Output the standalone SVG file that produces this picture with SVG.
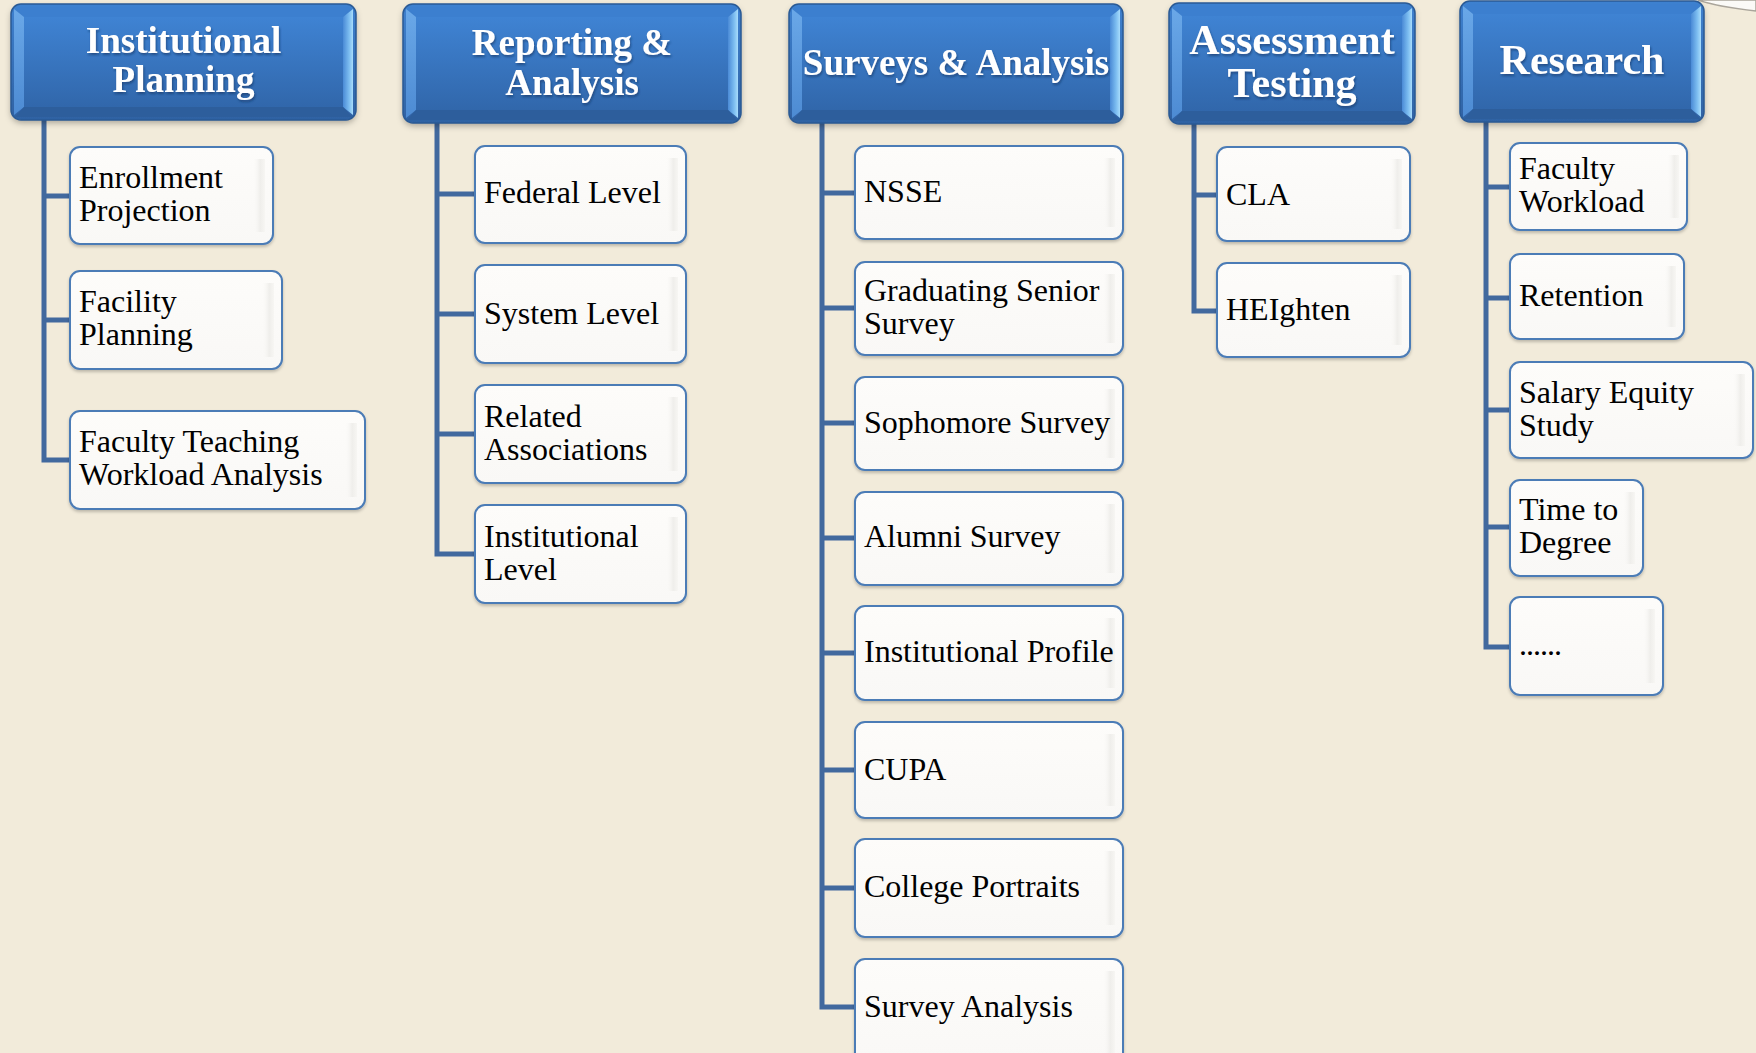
<svg xmlns="http://www.w3.org/2000/svg" width="1756" height="1053" viewBox="0 0 1756 1053">
<defs>
<linearGradient id="face" x1="0" y1="0" x2="0" y2="1"><stop offset="0" stop-color="#3f83d3"/><stop offset="1" stop-color="#3167ab"/></linearGradient>
<linearGradient id="outer" x1="0" y1="0" x2="0" y2="1"><stop offset="0" stop-color="#3e81d0"/><stop offset="1" stop-color="#2f62a3"/></linearGradient>
<linearGradient id="lbev" x1="0" y1="0" x2="0" y2="1"><stop offset="0" stop-color="#6aa8e8"/><stop offset="1" stop-color="#4d8bd3"/></linearGradient>
<linearGradient id="rbev" x1="0" y1="0" x2="1" y2="0"><stop offset="0" stop-color="#4a8ad6"/><stop offset="0.6" stop-color="#7bbcf0"/><stop offset="1" stop-color="#a8dcfb"/></linearGradient>
<linearGradient id="boxFill" x1="0" y1="0" x2="0" y2="1"><stop offset="0" stop-color="#fdfcfa"/><stop offset="1" stop-color="#f9f8f6"/></linearGradient>
<linearGradient id="strip" x1="0" y1="0" x2="1" y2="0"><stop offset="0" stop-color="#fbfaf8" stop-opacity="0"/><stop offset="0.6" stop-color="#efeeeb"/><stop offset="1" stop-color="#f7f6f3"/></linearGradient>
<filter id="hshadow" x="-5%" y="-5%" width="110%" height="120%"><feDropShadow dx="0" dy="3" stdDeviation="3" flood-color="#000" flood-opacity="0.3"/></filter>
<filter id="bshadow" x="-5%" y="-5%" width="110%" height="120%"><feDropShadow dx="0" dy="2" stdDeviation="1.5" flood-color="#000" flood-opacity="0.22"/></filter>
<filter id="tshadow" x="-5%" y="-10%" width="110%" height="130%"><feDropShadow dx="1" dy="2" stdDeviation="1.2" flood-color="#143260" flood-opacity="0.6"/></filter>
</defs>
<style>
.bg{fill:#f2ebda}
.conn{stroke:#42699e;stroke-width:5;fill:none;stroke-linejoin:miter}
.hout{fill:url(#outer);filter:url(#hshadow)}
.hedge{fill:none;stroke:#2a5a95;stroke-width:1.5}
.htop{fill:#3c7fcf}
.hleft{fill:url(#lbev)}
.hright{fill:url(#rbev)}
.hbot{fill:#2d5e9c}
.hface{fill:url(#face)}
.htxt{font-family:"Liberation Serif","Times New Roman",serif;font-weight:bold;fill:#fff;text-anchor:middle;filter:url(#tshadow)}
.box{fill:url(#boxFill);stroke:#4b7bb6;stroke-width:2;filter:url(#bshadow)}
.strip{fill:url(#strip)}
.lbl{font-family:"Liberation Serif","Times New Roman",serif;font-size:32px;fill:#000}
</style>
<rect class="bg" x="0" y="0" width="1756" height="1053"/>
<path d="M1698,0 C1712,5 1730,8 1756,11 L1756,0 Z" fill="#fbfaf7" stroke="#aaa59b" stroke-width="1.5"/>

<g id="connectors">
<path class="conn" d="M44,118 V460 H70 M44,196 H70 M44,320 H70"/>
<path class="conn" d="M437,121 V554 H475 M437,194 H475 M437,314 H475 M437,434 H475"/>
<path class="conn" d="M822,121 V1007 H855 M822,193 H855 M822,308 H855 M822,423 H855 M822,538 H855 M822,653 H855 M822,770 H855 M822,888 H855"/>
<path class="conn" d="M1194,122 V311 H1217 M1194,195 H1217"/>
<path class="conn" d="M1486,120 V647 H1510 M1486,187 H1510 M1486,298 H1510 M1486,410 H1510 M1486,527 H1510"/>
</g>

<g id="h-institutional-planning">
<rect class="hout" x="11" y="4" width="345" height="116" rx="10"/>
<path class="htop" d="M15,7 H352 L343,17 H24 Z"/>
<path class="hleft" d="M14,9 L24,17 V107 L14,115 Z"/>
<path class="hright" d="M353,9 L343,17 V107 L353,115 Z"/>
<path class="hbot" d="M15,117 H352 L343,107 H24 Z"/>
<rect class="hface" x="24" y="17" width="319" height="90"/>
<rect class="hedge" x="11" y="4" width="345" height="116" rx="10"/>
<text class="htxt" font-size="37" x="183.5" y="53">Institutional</text>
<text class="htxt" font-size="37" x="183.5" y="92">Planning</text>
</g>

<g id="h-reporting-analysis">
<rect class="hout" x="403" y="4" width="338" height="119" rx="10"/>
<path class="htop" d="M407,7 H737 L728,17 H416 Z"/>
<path class="hleft" d="M406,9 L416,17 V110 L406,118 Z"/>
<path class="hright" d="M738,9 L728,17 V110 L738,118 Z"/>
<path class="hbot" d="M407,120 H737 L728,110 H416 Z"/>
<rect class="hface" x="416" y="17" width="312" height="93"/>
<rect class="hedge" x="403" y="4" width="338" height="119" rx="10"/>
<text class="htxt" font-size="37" x="572" y="55">Reporting &amp;</text>
<text class="htxt" font-size="37" x="572" y="95">Analysis</text>
</g>

<g id="h-surveys-analysis">
<rect class="hout" x="789" y="4" width="334" height="119" rx="10"/>
<path class="htop" d="M793,7 H1119 L1110,17 H802 Z"/>
<path class="hleft" d="M792,9 L802,17 V110 L792,118 Z"/>
<path class="hright" d="M1120,9 L1110,17 V110 L1120,118 Z"/>
<path class="hbot" d="M793,120 H1119 L1110,110 H802 Z"/>
<rect class="hface" x="802" y="17" width="308" height="93"/>
<rect class="hedge" x="789" y="4" width="334" height="119" rx="10"/>
<text class="htxt" font-size="37" x="956" y="75">Surveys &amp; Analysis</text>
</g>

<g id="h-assessment-testing">
<rect class="hout" x="1169" y="3" width="246" height="121" rx="10"/>
<path class="htop" d="M1173,6 H1411 L1402,16 H1182 Z"/>
<path class="hleft" d="M1172,8 L1182,16 V111 L1172,119 Z"/>
<path class="hright" d="M1412,8 L1402,16 V111 L1412,119 Z"/>
<path class="hbot" d="M1173,121 H1411 L1402,111 H1182 Z"/>
<rect class="hface" x="1182" y="16" width="220" height="95"/>
<rect class="hedge" x="1169" y="3" width="246" height="121" rx="10"/>
<text class="htxt" font-size="42" x="1292" y="54">Assessment</text>
<text class="htxt" font-size="42" x="1292" y="97">Testing</text>
</g>

<g id="h-research">
<rect class="hout" x="1460" y="1" width="244" height="121" rx="10"/>
<path class="htop" d="M1464,4 H1700 L1691,14 H1473 Z"/>
<path class="hleft" d="M1463,6 L1473,14 V109 L1463,117 Z"/>
<path class="hright" d="M1701,6 L1691,14 V109 L1701,117 Z"/>
<path class="hbot" d="M1464,119 H1700 L1691,109 H1473 Z"/>
<rect class="hface" x="1473" y="14" width="218" height="95"/>
<rect class="hedge" x="1460" y="1" width="244" height="121" rx="10"/>
<text class="htxt" font-size="42" x="1582" y="74">Research</text>
</g>

<g id="n-enrollment-projection"><rect class="box" x="70" y="147" width="203" height="97" rx="10"/><rect class="strip" x="253" y="159" width="12" height="73"/><text class="lbl" x="79" y="188">Enrollment</text><text class="lbl" x="79" y="221">Projection</text></g>
<g id="n-facility-planning"><rect class="box" x="70" y="271" width="212" height="98" rx="10"/><rect class="strip" x="262" y="283" width="12" height="74"/><text class="lbl" x="79" y="312">Facility</text><text class="lbl" x="79" y="345">Planning</text></g>
<g id="n-faculty-teaching"><rect class="box" x="70" y="411" width="295" height="98" rx="10"/><rect class="strip" x="345" y="423" width="12" height="74"/><text class="lbl" x="79" y="452">Faculty Teaching</text><text class="lbl" x="79" y="485">Workload Analysis</text></g>

<g id="n-federal-level"><rect class="box" x="475" y="146" width="211" height="97" rx="10"/><rect class="strip" x="666" y="158" width="12" height="73"/><text class="lbl" x="484" y="203">Federal Level</text></g>
<g id="n-system-level"><rect class="box" x="475" y="265" width="211" height="98" rx="10"/><rect class="strip" x="666" y="277" width="12" height="74"/><text class="lbl" x="484" y="324">System Level</text></g>
<g id="n-related-associations"><rect class="box" x="475" y="385" width="211" height="98" rx="10"/><rect class="strip" x="666" y="397" width="12" height="74"/><text class="lbl" x="484" y="427">Related</text><text class="lbl" x="484" y="460">Associations</text></g>
<g id="n-institutional-level"><rect class="box" x="475" y="505" width="211" height="98" rx="10"/><rect class="strip" x="666" y="517" width="12" height="74"/><text class="lbl" x="484" y="547">Institutional</text><text class="lbl" x="484" y="580">Level</text></g>

<g id="n-nsse"><rect class="box" x="855" y="146" width="268" height="93" rx="10"/><rect class="strip" x="1103" y="158" width="12" height="69"/><text class="lbl" x="864" y="202">NSSE</text></g>
<g id="n-graduating-senior-survey"><rect class="box" x="855" y="262" width="268" height="93" rx="10"/><rect class="strip" x="1103" y="274" width="12" height="69"/><text class="lbl" x="864" y="301">Graduating Senior</text><text class="lbl" x="864" y="334">Survey</text></g>
<g id="n-sophomore-survey"><rect class="box" x="855" y="377" width="268" height="93" rx="10"/><rect class="strip" x="1103" y="389" width="12" height="69"/><text class="lbl" x="864" y="433">Sophomore Survey</text></g>
<g id="n-alumni-survey"><rect class="box" x="855" y="492" width="268" height="93" rx="10"/><rect class="strip" x="1103" y="504" width="12" height="69"/><text class="lbl" x="864" y="547">Alumni Survey</text></g>
<g id="n-institutional-profile"><rect class="box" x="855" y="606" width="268" height="94" rx="10"/><rect class="strip" x="1103" y="618" width="12" height="70"/><text class="lbl" x="864" y="662">Institutional Profile</text></g>
<g id="n-cupa"><rect class="box" x="855" y="722" width="268" height="96" rx="10"/><rect class="strip" x="1103" y="734" width="12" height="72"/><text class="lbl" x="864" y="780">CUPA</text></g>
<g id="n-college-portraits"><rect class="box" x="855" y="839" width="268" height="98" rx="10"/><rect class="strip" x="1103" y="851" width="12" height="74"/><text class="lbl" x="864" y="897">College Portraits</text></g>
<g id="n-survey-analysis"><rect class="box" x="855" y="959" width="268" height="110" rx="10"/><rect class="strip" x="1103" y="971" width="12" height="90"/><text class="lbl" x="864" y="1017">Survey Analysis</text></g>

<g id="n-cla"><rect class="box" x="1217" y="147" width="193" height="94" rx="10"/><rect class="strip" x="1390" y="159" width="12" height="70"/><text class="lbl" x="1226" y="205">CLA</text></g>
<g id="n-heighten"><rect class="box" x="1217" y="263" width="193" height="94" rx="10"/><rect class="strip" x="1390" y="275" width="12" height="70"/><text class="lbl" x="1226" y="320">HEIghten</text></g>

<g id="n-faculty-workload"><rect class="box" x="1510" y="143" width="177" height="87" rx="10"/><rect class="strip" x="1667" y="155" width="12" height="63"/><text class="lbl" x="1519" y="179">Faculty</text><text class="lbl" x="1519" y="212">Workload</text></g>
<g id="n-retention"><rect class="box" x="1510" y="254" width="174" height="85" rx="10"/><rect class="strip" x="1664" y="266" width="12" height="61"/><text class="lbl" x="1519" y="306">Retention</text></g>
<g id="n-salary-equity"><rect class="box" x="1510" y="362" width="243" height="96" rx="10"/><rect class="strip" x="1733" y="374" width="12" height="72"/><text class="lbl" x="1519" y="403">Salary Equity</text><text class="lbl" x="1519" y="436">Study</text></g>
<g id="n-time-to-degree"><rect class="box" x="1510" y="480" width="133" height="96" rx="10"/><rect class="strip" x="1623" y="492" width="12" height="72"/><text class="lbl" x="1519" y="520">Time to</text><text class="lbl" x="1519" y="553">Degree</text></g>
<g id="n-more"><rect class="box" x="1510" y="597" width="153" height="98" rx="10"/><rect class="strip" x="1643" y="609" width="12" height="74"/><text class="lbl" x="1519" y="655" letter-spacing="-1">......</text></g>
</svg>
